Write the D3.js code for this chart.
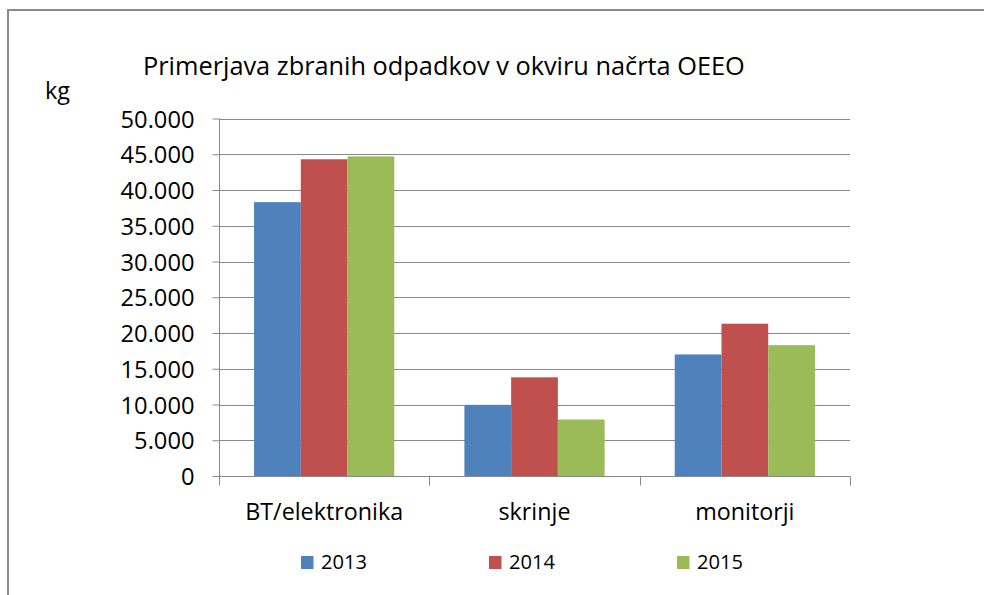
<!DOCTYPE html>
<html lang="sl">
<head>
<meta charset="utf-8">
<script src="https://cdn.jsdelivr.net/npm/d3@7"></script>
<style>
  html, body { margin: 0; padding: 0; background: #fff; }
  svg text { font-family: "Open Sans", "Noto Sans", sans-serif; fill: #000; }
</style>
</head>
<body>
<script>
  // data
  const categories = ['BT/elektronika', 'skrinje', 'monitorji']
  const years = ['2013', '2014', '2015']
  const v2013 = [38300, 9950, 17000]
  const v2014 = [44300, 13800, 21300]
  const v2015 = [44700, 7900, 18300]
  const yTicks = [0, 5000, 10000, 15000, 20000, 25000, 30000, 35000, 40000, 45000, 50000]
  const colors = ['#4f81bd', '#c0504d', '#9bbb59']

  const seriesValues = [v2013, v2014, v2015]
  const rows = categories.map(function(c, i) {
    return { cat: c, vals: years.map(function(y, j) { return { year: y, value: seriesValues[j][i] } }) }
  })

  const w = 984, h = 595
  const padL = 219, padR = 850, padT = 118.5, padB = 476

  const svg = d3.select('body').append('svg')
    .attr('width', w)
    .attr('height', h)

  // picks a font size so that the sample text gets the wanted width
  function sizeFor(sample, width, base) {
    const t = svg.append('text').style('font-size', base + 'px').text(sample)
    const len = t.node().getComputedTextLength()
    t.remove()
    return base * width / len
  }

  const loc = d3.formatLocale({ decimal: ',', thousands: '.', grouping: [3], currency: ['', ' €'] })
  const fmt = loc.format(',d')

  // chart frame
  svg.append('path')
    .attr('d', 'M8,' + h + 'V10H' + w)
    .attr('fill', 'none')
    .attr('stroke', '#8a8a8a')
    .attr('stroke-width', 2)

  const x0 = d3.scaleBand().domain(categories).range([padL, padR])
  const x1 = d3.scaleBand().domain(years).range([0, x0.bandwidth()]).paddingOuter(0.75)
  const y = d3.scaleLinear().domain([0, 50000]).range([padB, padT])

  // gridlines
  svg.append('g')
    .selectAll('line')
    .data(yTicks.slice(1))
    .enter()
    .append('line')
    .attr('x1', padL)
    .attr('x2', padR)
    .attr('y1', function(d) { return Math.round(y(d)) + 0.5 })
    .attr('y2', function(d) { return Math.round(y(d)) + 0.5 })
    .attr('stroke', '#888')

  // bars
  svg.append('g')
    .selectAll('g')
    .data(rows)
    .enter()
    .append('g')
    .attr('transform', function(d) { return 'translate(' + x0(d.cat) + ',0)' })
    .selectAll('rect')
    .data(function(d) { return d.vals })
    .enter()
    .append('rect')
    .attr('x', function(d) { return x1(d.year) })
    .attr('width', x1.bandwidth())
    .attr('y', function(d) { return y(d.value) })
    .attr('height', function(d) { return padB - y(d.value) })
    .attr('fill', function(d, i) { return colors[i] })

  // y axis
  const tickSize = sizeFor('50.000', 74, 20)
  const yAxis = d3.axisLeft(y).tickValues(yTicks).tickFormat(fmt).tickSize(7).tickSizeOuter(0).tickPadding(18)
  const gy = svg.append('g')
    .attr('transform', 'translate(' + (padL + 0.5) + ',0)')
    .call(yAxis)
  gy.select('.domain').attr('stroke', '#888').attr('d', 'M0,' + padT + 'V' + (padB + 9))
  gy.selectAll('.tick line').attr('stroke', '#888')
  gy.selectAll('.tick text')
    .attr('dy', '0.36em')
    .style('font-size', tickSize + 'px')
    .style('font-family', '"Open Sans", sans-serif')
    .attr('fill', '#000')

  // x axis
  const catSize = sizeFor('BT/elektronika', 158, 20)
  const gx = svg.append('g')
    .attr('transform', 'translate(0,' + (padB + 0.5) + ')')
  gx.append('line')
    .attr('x1', padL)
    .attr('x2', padR)
    .attr('stroke', '#888')
  gx.selectAll('line.tk')
    .data(categories.concat(['end']))
    .enter()
    .append('line')
    .attr('class', 'tk')
    .attr('x1', function(d, i) { return Math.round(i < 3 ? x0(d) : padR) + 0.5 })
    .attr('x2', function(d, i) { return Math.round(i < 3 ? x0(d) : padR) + 0.5 })
    .attr('y1', 0)
    .attr('y2', 9)
    .attr('stroke', '#888')
  gx.selectAll('text')
    .data(categories)
    .enter()
    .append('text')
    .attr('x', function(d) { return x0(d) + x0.bandwidth() / 2 })
    .attr('y', 519 - padB)
    .attr('text-anchor', 'middle')
    .style('font-size', catSize + 'px')
    .text(function(d) { return d })

  // title and unit
  svg.append('text')
    .attr('x', 143)
    .attr('y', 75)
    .style('font-size', sizeFor('Primerjava zbranih odpadkov v okviru načrta OEEO', 602, 24) + 'px')
    .text('Primerjava zbranih odpadkov v okviru načrta OEEO')

  svg.append('text')
    .attr('x', 45)
    .attr('y', 99)
    .style('font-size', sizeFor('kg', 25, 22) + 'px')
    .text('kg')

  // legend
  const legSize = sizeFor('2013', 46, 20)
  const legX = d3.scalePoint().domain(years).range([301, 677])
  const leg = svg.append('g')
    .selectAll('g')
    .data(years)
    .enter()
    .append('g')
    .attr('transform', function(d) { return 'translate(' + legX(d) + ',556)' })
  leg.append('rect')
    .attr('width', 12.5)
    .attr('height', 13)
    .attr('fill', function(d, i) { return colors[i] })
  leg.append('text')
    .attr('x', 20)
    .attr('y', 13)
    .style('font-size', legSize + 'px')
    .text(function(d) { return d })
</script>
</body>
</html>
